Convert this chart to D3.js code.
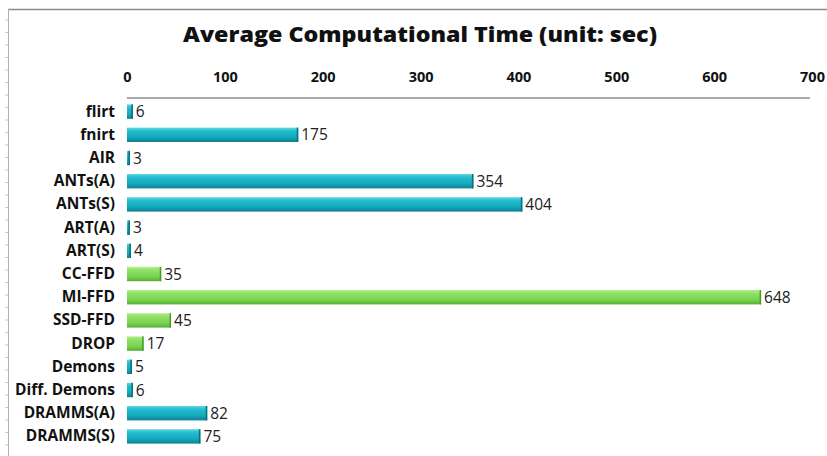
<!DOCTYPE html>
<html><head><meta charset="utf-8">
<script src="https://cdn.jsdelivr.net/npm/d3@7"></script>
<style>body{margin:0;background:#fff}svg{display:block}</style>
</head><body>
<script>
const categories = ["flirt","fnirt","AIR","ANTs(A)","ANTs(S)","ART(A)","ART(S)","CC-FFD","MI-FFD","SSD-FFD","DROP","Demons","Diff. Demons","DRAMMS(A)","DRAMMS(S)"];
const values = [6,175,3,354,404,3,4,35,648,45,17,5,6,82,75];
const groups = ["blue","blue","blue","blue","blue","blue","blue","green","green","green","green","blue","blue","blue","blue"];
const tickValues = [0,100,200,300,400,500,600,700];
const title = "Average Computational Time (unit: sec)";

const W=827,H=456;
const svg=d3.select("body").append("svg").attr("width",W).attr("height",H);
const defs=svg.append("defs");
function grad(id,stops){const g=defs.append("linearGradient").attr("id",id).attr("x1",0).attr("y1",0).attr("x2",0).attr("y2",1);
 stops.forEach(s=>g.append("stop").attr("offset",s[0]).attr("stop-color",s[1]));}
grad("gblue",[[0,"#5fd6e4"],[0.25,"#22bccf"],[0.7,"#15a7ba"],[1,"#0b7f90"]]);
grad("ggreen",[[0,"#b4ee8e"],[0.25,"#8ee064"],[0.7,"#78d34f"],[1,"#56ad33"]]);
const edge={blue:"#0a6f7e",green:"#4a9a2c"};

// frame
svg.append("line").attr("x1",8).attr("x2",W).attr("y1",9.5).attr("y2",9.5).attr("stroke","#8a8a8a").attr("stroke-width",1.5);
svg.append("line").attr("x1",8.5).attr("x2",8.5).attr("y1",9).attr("y2",H).attr("stroke","#b0b0b0");
d3.range(20,H,12.5).forEach(y=>svg.append("line").attr("x1",5).attr("x2",8).attr("y1",y).attr("y2",y).attr("stroke","#c8c8c8"));

svg.append("text").attr("x",420).attr("y",42).attr("text-anchor","middle")
 .attr("font-family","Open Sans, sans-serif").attr("font-weight","800").attr("font-size",21.5).attr("fill","#111")
 .attr("textLength",474).attr("lengthAdjust","spacingAndGlyphs").text(title);

const x=d3.scaleLinear().domain([0,700]).range([127,812]);
const y=d3.scaleBand().domain(categories).range([100,448]).paddingInner(0.38).paddingOuter(0.19);

const ax=svg.append("g").attr("transform","translate(0,98)")
 .call(d3.axisTop(x).tickValues(tickValues).tickSize(0).tickPadding(16));
ax.select(".domain").attr("stroke","#8c8c8c").attr("stroke-width",1.5).attr("d","M127,0H810");
ax.selectAll("text").attr("font-family","Open Sans, sans-serif").attr("font-weight","bold").attr("font-size",14.5).attr("fill","#111");

const ay=svg.append("g").attr("transform","translate(127,0)")
 .call(d3.axisLeft(y).tickSize(0).tickPadding(12));
ay.select(".domain").remove();
ay.selectAll("text").attr("font-family","Open Sans, sans-serif").attr("font-weight","bold").attr("font-size",15.5).attr("fill","#111");

const rows=svg.append("g").selectAll("g").data(categories).join("g");
rows.append("rect").attr("x",x(0)).attr("y",d=>y(d)).attr("height",y.bandwidth())
 .attr("width",(d,i)=>x(values[i])-x(0)).attr("fill",(d,i)=>"url(#g"+groups[i]+")");
rows.append("rect").attr("x",(d,i)=>x(values[i])-1.5).attr("y",d=>y(d)).attr("height",y.bandwidth())
 .attr("width",1.5).attr("fill",(d,i)=>edge[groups[i]]);
rows.append("text").attr("x",(d,i)=>x(values[i])+3).attr("y",d=>y(d)+y.bandwidth()/2).attr("dy","0.36em")
 .attr("font-family","Open Sans, sans-serif").attr("font-size",15.5).attr("fill","#222").text((d,i)=>values[i]);
</script>
</body></html>
